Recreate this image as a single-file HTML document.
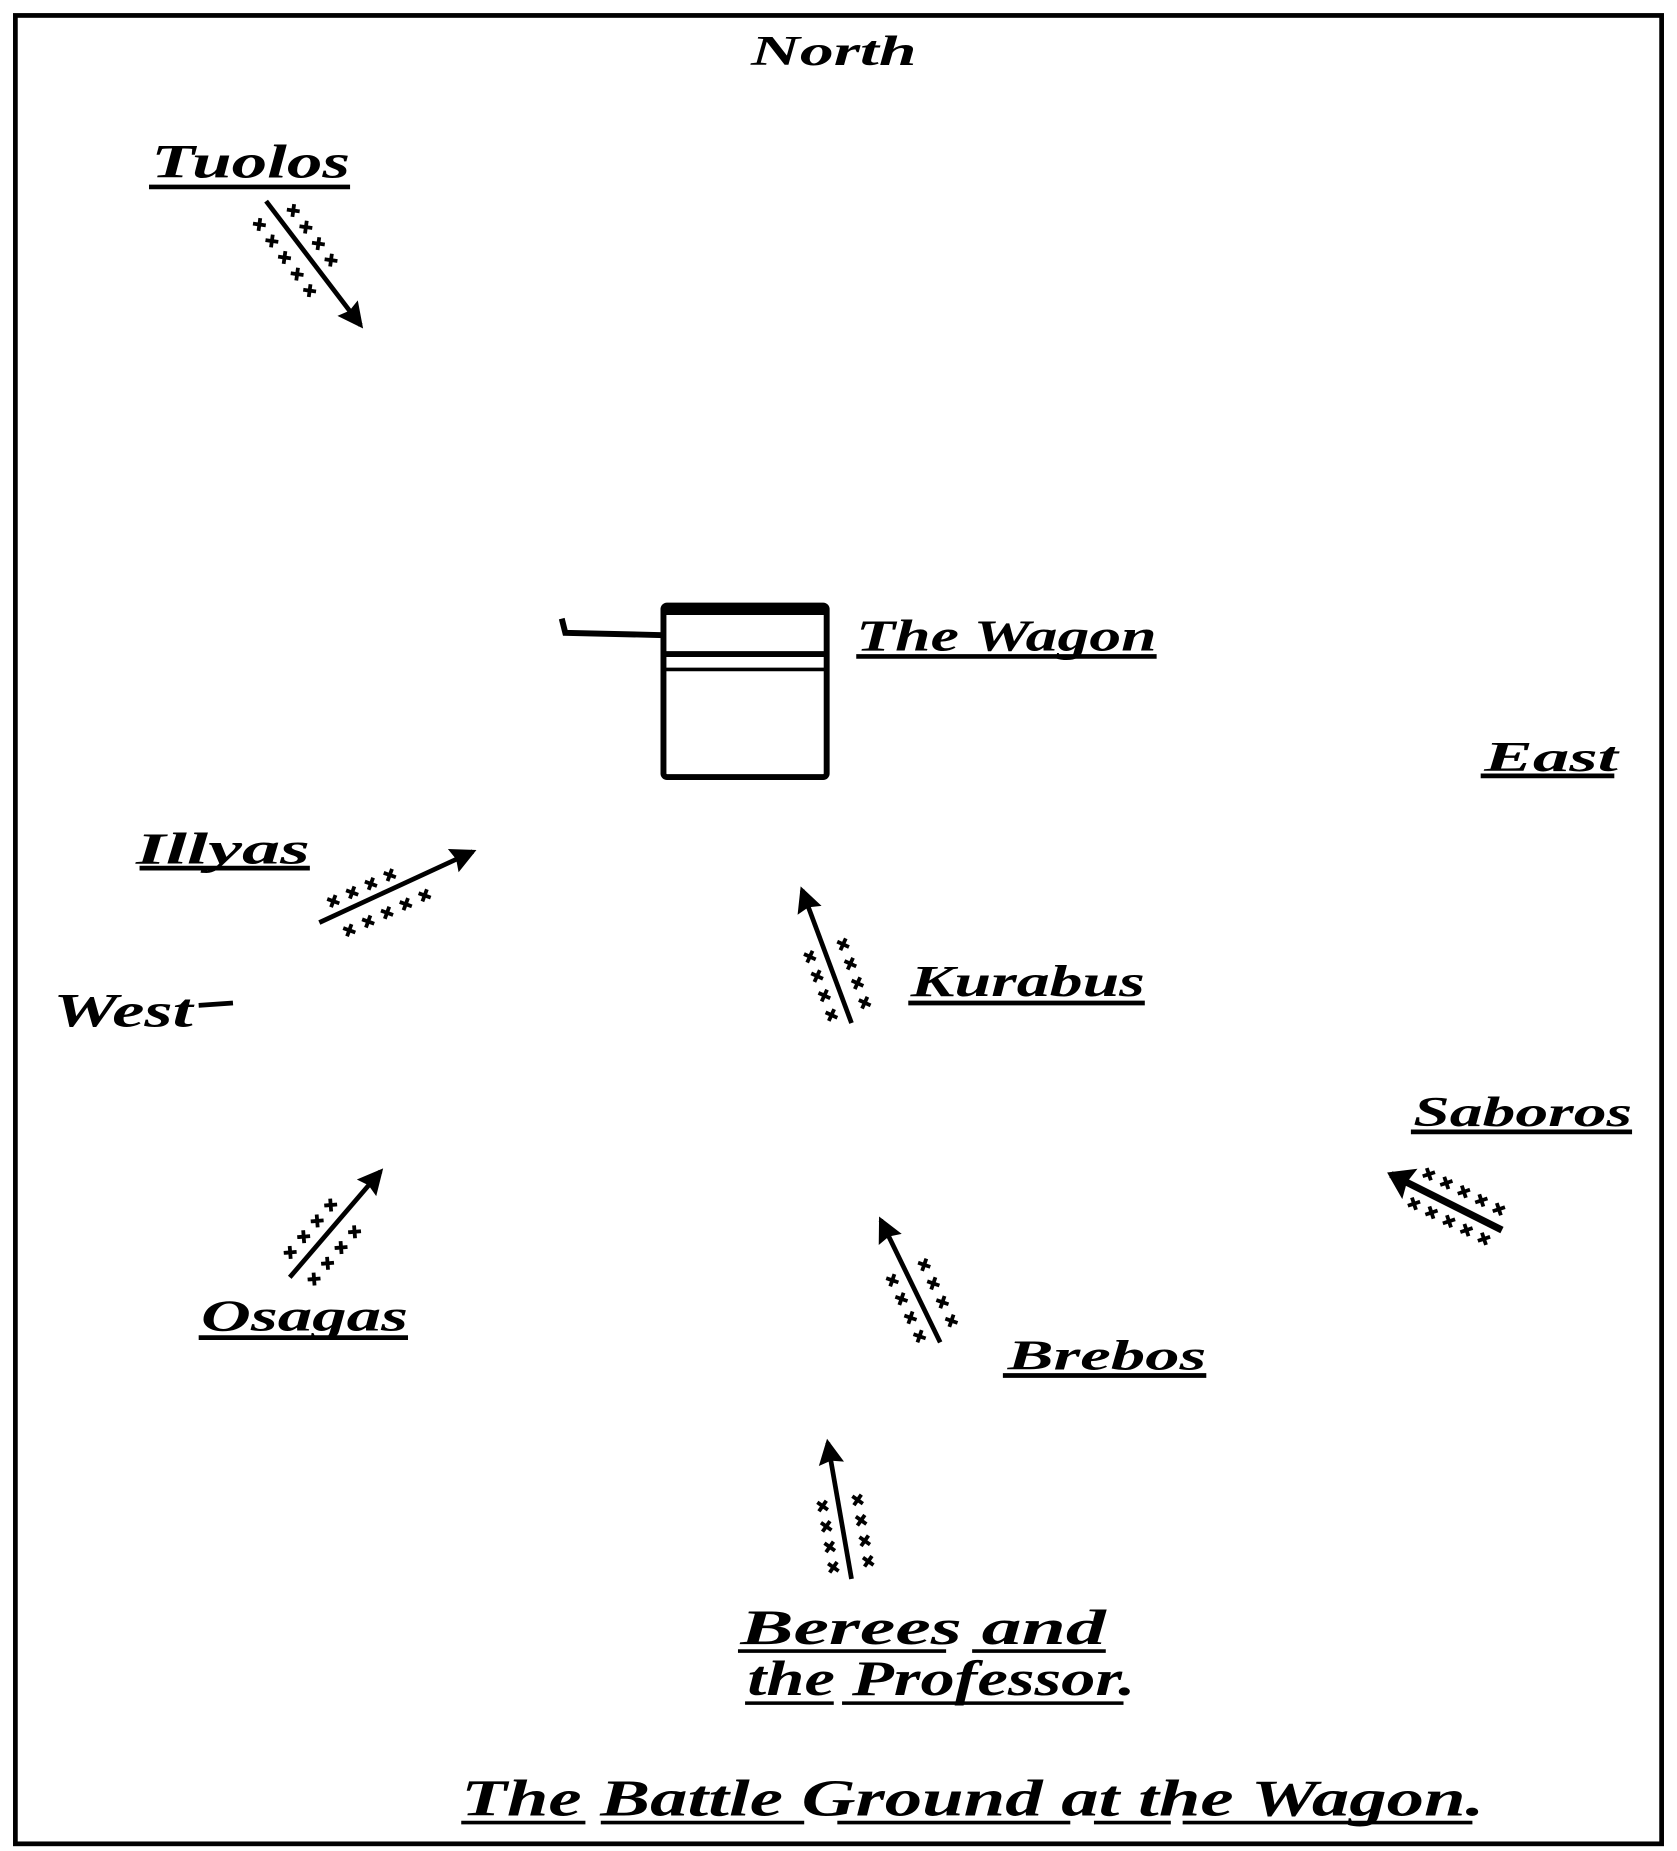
<!DOCTYPE html>
<html><head><meta charset="utf-8"><style>
html,body{margin:0;padding:0;background:#fff;}
svg{display:block;}
text{font-family:"Liberation Serif",serif;font-style:italic;font-weight:bold;fill:#000;}
text.m{font-family:"DejaVu Sans",sans-serif;font-style:normal;font-size:15px;}
</style></head><body>
<svg width="1677" height="1851" viewBox="0 0 1418 1565" xmlns="http://www.w3.org/2000/svg">
<rect x="13" y="13" width="1392" height="1546" fill="none" stroke="#000" stroke-width="4"/>

<text x="635" y="55" font-size="36" textLength="140" lengthAdjust="spacingAndGlyphs">North</text>

<text x="128" y="150" font-size="40" textLength="168" lengthAdjust="spacingAndGlyphs">Tuolos</text>
<line x1="126" y1="158" x2="296" y2="158" stroke="#000" stroke-width="4"/>

<g transform="translate(225,170) rotate(52.7)">
<line x1="0" y1="0" x2="132" y2="0" stroke="#000" stroke-width="4"/>
<path d="M132,0 L116,-8 L118,0 L116,8 Z" stroke="#000" stroke-width="3"/>
<text class="m" x="14" y="-8" letter-spacing="5">✖✖✖✖</text>
<text class="m" x="6" y="22" letter-spacing="5">✖✖✖✖✖</text>
</g>

<rect x="561" y="512" width="138" height="145" fill="none" stroke="#000" stroke-width="5" rx="3"/>
<line x1="561" y1="553" x2="699" y2="553" stroke="#000" stroke-width="5"/>
<line x1="561" y1="517" x2="699" y2="517" stroke="#000" stroke-width="6"/>
<line x1="561" y1="566" x2="699" y2="566" stroke="#000" stroke-width="3"/>
<path d="M475,523 L478,535 L561,537" fill="none" stroke="#000" stroke-width="5"/>
<text x="724" y="550" font-size="38" textLength="254" lengthAdjust="spacingAndGlyphs">The Wagon</text>
<line x1="724" y1="555" x2="978" y2="555" stroke="#000" stroke-width="4"/>

<text x="1255" y="652" font-size="36" textLength="113" lengthAdjust="spacingAndGlyphs">East</text>
<line x1="1252" y1="656" x2="1365" y2="656" stroke="#000" stroke-width="4"/>

<text x="115" y="730" font-size="38" textLength="147" lengthAdjust="spacingAndGlyphs">Illyas</text>
<line x1="118" y1="734" x2="262" y2="734" stroke="#000" stroke-width="4"/>
<g transform="translate(270,780) rotate(-24.8)">
<line x1="0" y1="0" x2="143" y2="0" stroke="#000" stroke-width="4"/>
<path d="M143,0 L127,-8 L129,0 L127,8 Z" stroke="#000" stroke-width="3"/>
<text class="m" x="12" y="-6" letter-spacing="5">✖✖✖✖</text>
<text class="m" x="14" y="22" letter-spacing="5">✖✖✖✖✖</text>
</g>

<text x="45" y="868" font-size="40" textLength="118" lengthAdjust="spacingAndGlyphs">West</text>
<line x1="168" y1="850" x2="197" y2="848" stroke="#000" stroke-width="4"/>

<g transform="translate(720,865) rotate(-110.4)">
<line x1="0" y1="0" x2="120" y2="0" stroke="#000" stroke-width="4"/>
<path d="M120,0 L104,-8 L106,0 L104,8 Z" stroke="#000" stroke-width="3"/>
<text class="m" x="6" y="-8" letter-spacing="5">✖✖✖✖</text>
<text class="m" x="6" y="22" letter-spacing="5">✖✖✖✖</text>
</g>
<text x="770" y="842" font-size="38" textLength="198" lengthAdjust="spacingAndGlyphs">Kurabus</text>
<line x1="768" y1="848" x2="968" y2="848" stroke="#000" stroke-width="4"/>

<text x="1195" y="952" font-size="36" textLength="185" lengthAdjust="spacingAndGlyphs">Saboros</text>
<line x1="1193" y1="957" x2="1380" y2="957" stroke="#000" stroke-width="4"/>
<g transform="translate(1270,1040) rotate(-153.4)">
<line x1="0" y1="0" x2="105" y2="0" stroke="#000" stroke-width="6"/>
<path d="M105,0 L90,-10 L92,0 L90,10 Z" stroke="#000" stroke-width="4"/>
<text class="m" x="4" y="-8" letter-spacing="4">✖✖✖✖✖</text>
<text class="m" x="4" y="20" letter-spacing="4">✖✖✖✖✖</text>
</g>

<g transform="translate(245,1080) rotate(-49.4)">
<line x1="0" y1="0" x2="118" y2="0" stroke="#000" stroke-width="4"/>
<path d="M118,0 L102,-8 L104,0 L102,8 Z" stroke="#000" stroke-width="3"/>
<text class="m" x="10" y="-8" letter-spacing="5">✖✖✖✖</text>
<text class="m" x="6" y="22" letter-spacing="5">✖✖✖✖</text>
</g>
<text x="170" y="1125" font-size="38" textLength="175" lengthAdjust="spacingAndGlyphs">Osagas</text>
<line x1="168" y1="1131" x2="345" y2="1131" stroke="#000" stroke-width="4"/>

<g transform="translate(795,1135) rotate(-115.9)">
<line x1="0" y1="0" x2="115" y2="0" stroke="#000" stroke-width="4"/>
<path d="M115,0 L99,-8 L101,0 L99,8 Z" stroke="#000" stroke-width="3"/>
<text class="m" x="6" y="-8" letter-spacing="5">✖✖✖✖</text>
<text class="m" x="6" y="22" letter-spacing="5">✖✖✖✖</text>
</g>
<text x="852" y="1158" font-size="36" textLength="168" lengthAdjust="spacingAndGlyphs">Brebos</text>
<line x1="848" y1="1163" x2="1020" y2="1163" stroke="#000" stroke-width="4"/>

<g transform="translate(720,1335) rotate(-99.9)">
<line x1="0" y1="0" x2="117" y2="0" stroke="#000" stroke-width="4"/>
<path d="M117,0 L101,-8 L103,0 L101,8 Z" stroke="#000" stroke-width="3"/>
<text class="m" x="6" y="-8" letter-spacing="5">✖✖✖✖</text>
<text class="m" x="6" y="22" letter-spacing="5">✖✖✖✖</text>
</g>

<text x="626" y="1390" font-size="42" textLength="309" lengthAdjust="spacingAndGlyphs">Berees and</text>
<line x1="624" y1="1396" x2="800" y2="1396" stroke="#000" stroke-width="3"/>
<line x1="822" y1="1396" x2="935" y2="1396" stroke="#000" stroke-width="3"/>
<text x="632" y="1433" font-size="42" textLength="328" lengthAdjust="spacingAndGlyphs">the Professor.</text>
<line x1="630" y1="1440" x2="705" y2="1440" stroke="#000" stroke-width="3"/>
<line x1="712" y1="1440" x2="950" y2="1440" stroke="#000" stroke-width="3"/>

<text x="390" y="1535" font-size="44" textLength="865" lengthAdjust="spacingAndGlyphs">The Battle Ground at the Wagon.</text>
<line x1="390" y1="1541" x2="495" y2="1541" stroke="#000" stroke-width="3"/>
<line x1="508" y1="1541" x2="680" y2="1541" stroke="#000" stroke-width="3"/>
<line x1="708" y1="1541" x2="905" y2="1541" stroke="#000" stroke-width="3"/>
<line x1="925" y1="1541" x2="990" y2="1541" stroke="#000" stroke-width="3"/>
<line x1="1000" y1="1541" x2="1245" y2="1541" stroke="#000" stroke-width="3"/>
</svg>
</body></html>
